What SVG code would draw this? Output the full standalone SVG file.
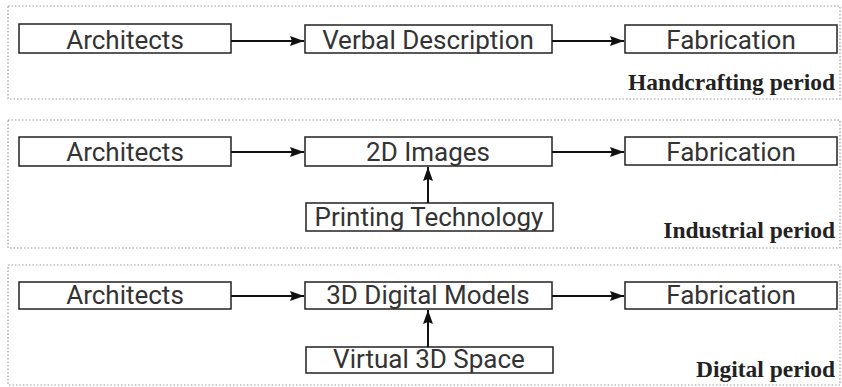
<svg xmlns="http://www.w3.org/2000/svg" width="842" height="387" viewBox="0 0 842 387">
<defs>
<marker id="ah" viewBox="0 0 14 10" refX="14" refY="5" markerWidth="14" markerHeight="10" markerUnits="userSpaceOnUse" orient="auto">
<path d="M0,0 L14,5 L0,10 L2,5 Z" fill="#111"/>
</marker>
<style>
.panel{fill:none;stroke:#9a9a9a;stroke-width:1.2;stroke-dasharray:1.5 2}
.box{fill:#fff;stroke:#222;stroke-width:1.5}
.lbl{font-family:Roboto,"Liberation Sans",sans-serif;font-weight:400;font-size:26px;fill:#333;text-anchor:middle}
.per{font-family:"Liberation Serif","DejaVu Serif",serif;font-weight:bold;font-size:23.5px;fill:#222;text-anchor:end}
.con{stroke:#111;stroke-width:2;fill:none;marker-end:url(#ah)}
</style>
</defs>
<rect width="842" height="387" fill="#fff"/>
<g id="panels">
<rect class="panel" x="8" y="6" width="832" height="93"/>
<rect class="panel" x="8" y="120" width="832" height="128"/>
<rect class="panel" x="8" y="265" width="832" height="120"/>
</g>
<g id="n1-arch"><rect class="box" x="19" y="24" width="212" height="29"/><text class="lbl" x="125" y="49">Architects</text></g>
<g id="n1-verbal"><rect class="box" x="305" y="25" width="247" height="28"/><text class="lbl" x="428" y="49">Verbal Description</text></g>
<g id="n1-fab"><rect class="box" x="625" y="25" width="212" height="28"/><text class="lbl" x="731" y="49">Fabrication</text></g>
<g id="p1-label"><text class="per" x="835" y="90">Handcrafting period</text></g>

<g id="n2-arch"><rect class="box" x="19" y="137" width="212" height="29"/><text class="lbl" x="125" y="161">Architects</text></g>
<g id="n2-2d"><rect class="box" x="305" y="137" width="247" height="29"/><text class="lbl" x="428" y="161">2D Images</text></g>
<g id="n2-fab"><rect class="box" x="625" y="137" width="212" height="28"/><text class="lbl" x="731" y="161">Fabrication</text></g>
<g id="n2-print"><rect class="box" x="306" y="203" width="247" height="28"/><text class="lbl" x="429" y="226">Printing Technology</text></g>
<g id="p2-label"><text class="per" x="835" y="238">Industrial period</text></g>

<g id="n3-arch"><rect class="box" x="19" y="282" width="212" height="27"/><text class="lbl" x="125" y="304">Architects</text></g>
<g id="n3-3d"><rect class="box" x="305" y="282" width="247" height="27"/><text class="lbl" x="428" y="304">3D Digital Models</text></g>
<g id="n3-fab"><rect class="box" x="625" y="282" width="212" height="27"/><text class="lbl" x="731" y="304">Fabrication</text></g>
<g id="n3-virtual"><rect class="box" x="306" y="347" width="247" height="26"/><text class="lbl" x="429" y="368">Virtual 3D Space</text></g>
<g id="p3-label"><text class="per" x="835" y="377">Digital period</text></g>

<g id="connectors">
<line class="con" x1="231" y1="41" x2="304" y2="41"/>
<line class="con" x1="552" y1="41" x2="624" y2="41"/>
<line class="con" x1="231" y1="152" x2="304" y2="152"/>
<line class="con" x1="552" y1="152" x2="624" y2="152"/>
<line class="con" x1="428" y1="203" x2="428" y2="167"/>
<line class="con" x1="231" y1="296" x2="304" y2="296"/>
<line class="con" x1="552" y1="296" x2="624" y2="296"/>
<line class="con" x1="428" y1="347" x2="428" y2="310"/>
</g>
</svg>
